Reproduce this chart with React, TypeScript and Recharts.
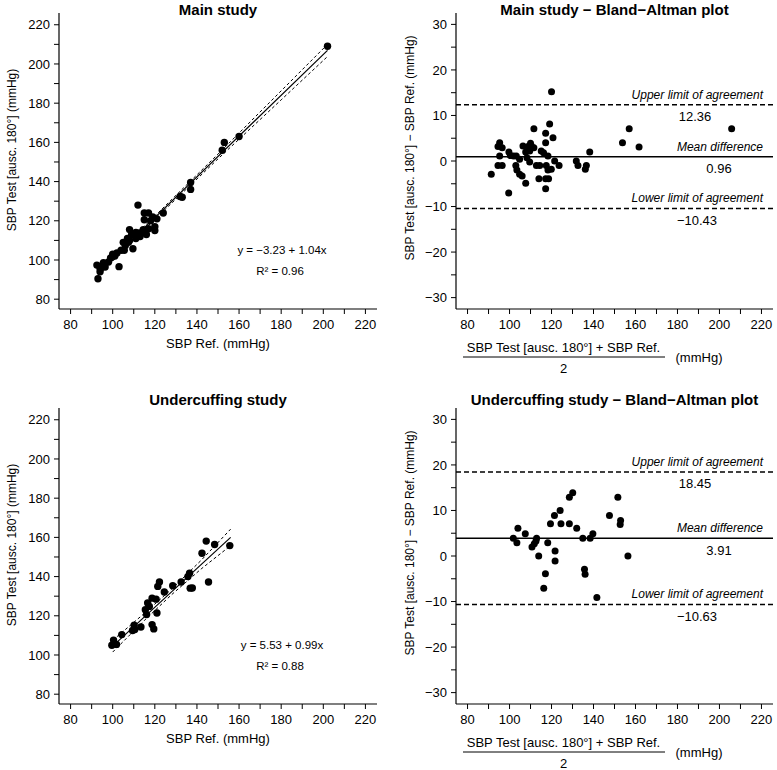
import React from 'react'
import { ScatterChart, Scatter, XAxis, YAxis, ReferenceLine } from 'recharts'

// axis ticks (minor every 10 / 5, labels only on the majors)
const sbpTicks = [80, 90, 100, 110, 120, 130, 140, 150, 160, 170, 180, 190, 200, 210, 220]
const diffTicks = [-30, -25, -20, -15, -10, -5, 0, 5, 10, 15, 20, 25, 30]

// Main study - SBP Ref. vs SBP Test
const mainRef = [202, 160, 153, 152, 137, 137, 132, 133, 124, 112, 115, 117, 121, 115, 118, 120, 117, 114.5, 120, 116, 113, 108, 109, 111, 107, 105, 107.5, 109.6, 104, 105.5, 102, 100, 99, 95.6, 92.5, 94.8, 96.4, 94, 93, 103, 106, 112.7, 119, 111, 98, 94, 108, 101]
const mainTest = [209, 163, 160, 156, 139.5, 136, 132.4, 132, 124, 128, 124, 124, 121, 120.5, 120, 117, 116, 115.5, 115, 113, 112, 115.5, 113, 111, 111, 109, 109, 105.7, 105, 105, 103.6, 103, 101, 98.6, 97.4, 97, 96.4, 95.6, 90.4, 96.6, 107.4, 113.8, 122, 114, 99, 94, 110, 102]
const mainFitX = [93, 202]
const mainFitY = [93.5, 206.9]
const mainBandX = [93, 118, 150, 180, 202]
const mainBandUpper = [95.3, 120.3, 154.0, 186.3, 210.0]
const mainBandLower = [91.7, 118.7, 151.6, 181.7, 203.8]

// Main study - Bland-Altman
const mainAvg = [120, 111.6, 119.1, 117.2, 120.7, 117.2, 95.3, 94.5, 96.5, 99.7, 100.4, 101.9, 95.3, 106.4, 108.8, 110.4, 111.6, 110, 107.7, 108.3, 115.1, 116.2, 118.3, 109.6, 112.8, 114.4, 121.5, 117.5, 123.6, 119.9, 118.3, 114, 117.2, 118.6, 117.2, 107.7, 103.5, 104.8, 106, 103, 94.5, 96.5, 91.3, 99.6, 131.8, 132.6, 136.6, 136.1, 138.2, 153.8, 157, 161.7, 205.8, 103.2, 104.8, 109.6]
const mainDiff = [15.2, 7.1, 8.1, 6.1, 5.1, 4, 4, 3.2, 2.9, 2, 1.2, 1.1, 1.1, 3.3, 3.2, 3.3, 2.9, 3.9, 2, 0.7, 2.2, 1.8, 1.1, -0.2, -1, -1, 0, -1, -1, -1.8, -2, -3.9, -3.9, -3.9, -6.1, -4.9, -2, -2.9, -3.3, -1, -1, -1, -2.9, -7, 0, -1, -1, -1.8, 2, 4, 7.1, 3.1, 7.1, 1.1, 0.4, 2.2]

// Undercuffing study - SBP Ref. vs SBP Test
const underRef = [155.6, 148.4, 144.4, 142.4, 145.5, 136.5, 135.7, 136.8, 132.5, 128.5, 124.5, 122.2, 121.4, 118.7, 120.6, 116.6, 115.5, 116.1, 121, 118.7, 119.5, 113.4, 110.2, 109.4, 104.3, 100.4, 99.6, 101.8, 110.5, 117.4, 137.8]
const underTest = [155.8, 156.4, 158.1, 151.9, 137.2, 141.7, 140, 134.1, 137.2, 135.3, 132.1, 137.2, 135, 129, 128.5, 126.5, 123.1, 120.6, 121.4, 115.5, 113.3, 114.3, 115.2, 112.5, 110.4, 107.6, 105, 105.4, 113, 124.8, 134.2]
const underFitX = [100, 156]
const underFitY = [104.5, 160.0]
const underBandX = [100, 115, 128, 142, 156]
const underBandUpper = [107.5, 121.2, 133.6, 148.3, 164.2]
const underBandLower = [101.5, 117.6, 130.8, 143.9, 155.8]

// Undercuffing study - Bland-Altman
const underAvg = [101.8, 103.5, 104, 107.5, 110.7, 111.8, 112.9, 112.6, 113.9, 118.2, 117.1, 116.3, 119.5, 121.4, 124.1, 124.5, 121.7, 121.7, 128.5, 130.1, 128.5, 132, 134.9, 135.7, 136, 138.4, 139.7, 141.6, 147.6, 151.6, 152.9, 152.7, 156.4]
const underDiff = [3.9, 2.9, 6.1, 4.9, 2, 2.7, 3.9, 3.3, 0, 2.9, -3.9, -7.1, 7.1, 8.9, 10, 7.1, 1.1, -1.1, 12.9, 13.9, 7.1, 6.1, 3.9, -2.9, -4, 3.9, 4.9, -9.1, 8.9, 12.9, 7.8, 6.9, 0]

const pairs = (xs: number[], ys: number[]) => xs.map((x, i) => ({ x, y: ys[i] }))
const fmtSbp = (v: number) => (v % 20 === 0 ? String(v) : '')
const fmtDiff = (v: number) => (v % 10 !== 0 ? '' : v < 0 ? '\u2212' + Math.abs(v) : String(v))

const noShape = () => <g />
const dot = (r: number) => (p: any) => <circle cx={p.cx} cy={p.cy} r={r} fill="#000" />

const axisProps = {
  axisLine: { stroke: '#000', strokeWidth: 1.2 },
  tickLine: { stroke: '#000', strokeWidth: 1 },
  tick: { fill: '#000', fontSize: 13 },
  tickSize: 5,
}

const ROW_H = 395
const overlayStyle: React.CSSProperties = { position: 'absolute', left: 0, top: 0, pointerEvents: 'none', overflow: 'visible' }

function RegressionPanel({ title, titleY, xs, ys, fitX, fitY, bandX, bandUpper, bandLower, eq, r2 }: any) {
  return (
    <div style={{ position: 'relative', width: 388, height: ROW_H }}>
      <ScatterChart width={388} height={ROW_H} margin={{ top: 13, right: 11, bottom: 56, left: 9 }}>
        <XAxis type="number" dataKey="x" domain={[74.5, 225.5]} ticks={sbpTicks} tickFormatter={fmtSbp}
          allowDataOverflow height={30} tickMargin={6} {...axisProps} />
        <YAxis type="number" dataKey="y" domain={[75, 226]} ticks={sbpTicks} tickFormatter={fmtSbp}
          allowDataOverflow width={50} tickMargin={4} {...axisProps} />
        <Scatter data={pairs(bandX, bandUpper)} line={{ stroke: '#000', strokeWidth: 1, strokeDasharray: '3 2.5' }}
          shape={noShape} isAnimationActive={false} />
        <Scatter data={pairs(bandX, bandLower)} line={{ stroke: '#000', strokeWidth: 1, strokeDasharray: '3 2.5' }}
          shape={noShape} isAnimationActive={false} />
        <Scatter data={pairs(fitX, fitY)} line={{ stroke: '#000', strokeWidth: 1.2 }}
          shape={noShape} isAnimationActive={false} />
        <Scatter data={pairs(xs, ys)} shape={dot(3.7)} isAnimationActive={false} />
      </ScatterChart>
      <svg width={388} height={ROW_H} style={overlayStyle}>
        <text x={218} y={titleY} textAnchor="middle" fontWeight="bold" fontSize={15}>{title}</text>
        <text transform="translate(12,150) rotate(-90)" textAnchor="middle" dominantBaseline="central" fontSize={12}>
          SBP Test [ausc. 180°] (mmHg)
        </text>
        <text x={218} y={348} textAnchor="middle" fontSize={13}>SBP Ref. (mmHg)</text>
        <text x={282} y={253.5} textAnchor="middle" fontSize={11.5}>{eq}</text>
        <text x={280} y={275} textAnchor="middle" fontSize={11.5}>R² = {r2}</text>
      </svg>
    </div>
  )
}

const limitLabel = (caption: string, value: string, valueOffset: number) => (props: any) => {
  const vb = props.viewBox || { x: 0, y: 0, width: 0 }
  const right = vb.x + vb.width
  return (
    <g>
      <text x={right - 10} y={vb.y - 6} textAnchor="end" fontStyle="italic" fontSize={12} fill="#000">{caption}</text>
      <text x={right - valueOffset} y={vb.y + 16.5} textAnchor="middle" fontSize={13} fill="#000">{value}</text>
    </g>
  )
}

function BlandAltmanPanel({ title, titleY, avg, diff, mean, upper, lower }: any) {
  const fmt = (v: number) => (v < 0 ? '\u2212' + Math.abs(v).toFixed(2) : v.toFixed(2))
  return (
    <div style={{ position: 'relative', width: 389, height: ROW_H }}>
      <ScatterChart width={389} height={ROW_H} margin={{ top: 13, right: 4, bottom: 56, left: 18 }}>
        <XAxis type="number" dataKey="x" domain={[74.5, 225.5]} ticks={sbpTicks} tickFormatter={fmtSbp}
          allowDataOverflow height={30} tickMargin={6} {...axisProps} />
        <YAxis type="number" dataKey="y" domain={[-32.5, 32.5]} ticks={diffTicks} tickFormatter={fmtDiff}
          allowDataOverflow width={50} tickMargin={4} {...axisProps} />
        <ReferenceLine y={upper} stroke="#000" strokeWidth={1.5} strokeDasharray="5 3"
          label={limitLabel('Upper limit of agreement', fmt(upper), 78)} />
        <ReferenceLine y={mean} stroke="#000" strokeWidth={1.5}
          label={limitLabel('Mean difference', fmt(mean), 54)} />
        <ReferenceLine y={lower} stroke="#000" strokeWidth={1.5} strokeDasharray="5 3"
          label={limitLabel('Lower limit of agreement', fmt(lower), 76)} />
        <Scatter data={pairs(avg, diff)} shape={dot(3.5)} isAnimationActive={false} />
      </ScatterChart>
      <svg width={389} height={ROW_H} style={overlayStyle}>
        <text x={226.5} y={titleY} textAnchor="middle" fontWeight="bold" fontSize={15}>{title}</text>
        <text transform="translate(22,148) rotate(-90)" textAnchor="middle" dominantBaseline="central" fontSize={12}>
          SBP Test [ausc. 180°] − SBP Ref.  (mmHg)
        </text>
        <text x={175.5} y={351.5} textAnchor="middle" fontSize={13}>SBP Test [ausc. 180°] + SBP Ref.</text>
        <line x1={75} x2={277} y1={357} y2={357} stroke="#000" strokeWidth={1} />
        <text x={175.5} y={372.5} textAnchor="middle" fontSize={13}>2</text>
        <text x={311} y={361.5} textAnchor="middle" fontSize={13}>(mmHg)</text>
      </svg>
    </div>
  )
}

export default function App() {
  return (
    <div style={{
      position: 'absolute', left: 0, top: 0, width: 777, height: 770, background: '#fff',
      fontFamily: "'Liberation Sans', Arial, sans-serif", color: '#000',
    }}>
      <div style={{ position: 'absolute', left: 0, top: 0 }}>
        <RegressionPanel title="Main study" titleY={15} xs={mainRef} ys={mainTest}
          fitX={mainFitX} fitY={mainFitY} bandX={mainBandX} bandUpper={mainBandUpper} bandLower={mainBandLower}
          eq="y = −3.23 + 1.04x" r2="0.96" />
      </div>
      <div style={{ position: 'absolute', left: 388, top: 0 }}>
        <BlandAltmanPanel title="Main study − Bland−Altman plot" titleY={15} avg={mainAvg} diff={mainDiff}
          mean={0.96} upper={12.36} lower={-10.43} />
      </div>
      <div style={{ position: 'absolute', left: 0, top: ROW_H }}>
        <RegressionPanel title="Undercuffing study" titleY={10} xs={underRef} ys={underTest}
          fitX={underFitX} fitY={underFitY} bandX={underBandX} bandUpper={underBandUpper} bandLower={underBandLower}
          eq="y = 5.53 + 0.99x" r2="0.88" />
      </div>
      <div style={{ position: 'absolute', left: 388, top: ROW_H }}>
        <BlandAltmanPanel title="Undercuffing study − Bland−Altman plot" titleY={10} avg={underAvg} diff={underDiff}
          mean={3.91} upper={18.45} lower={-10.63} />
      </div>
    </div>
  )
}
